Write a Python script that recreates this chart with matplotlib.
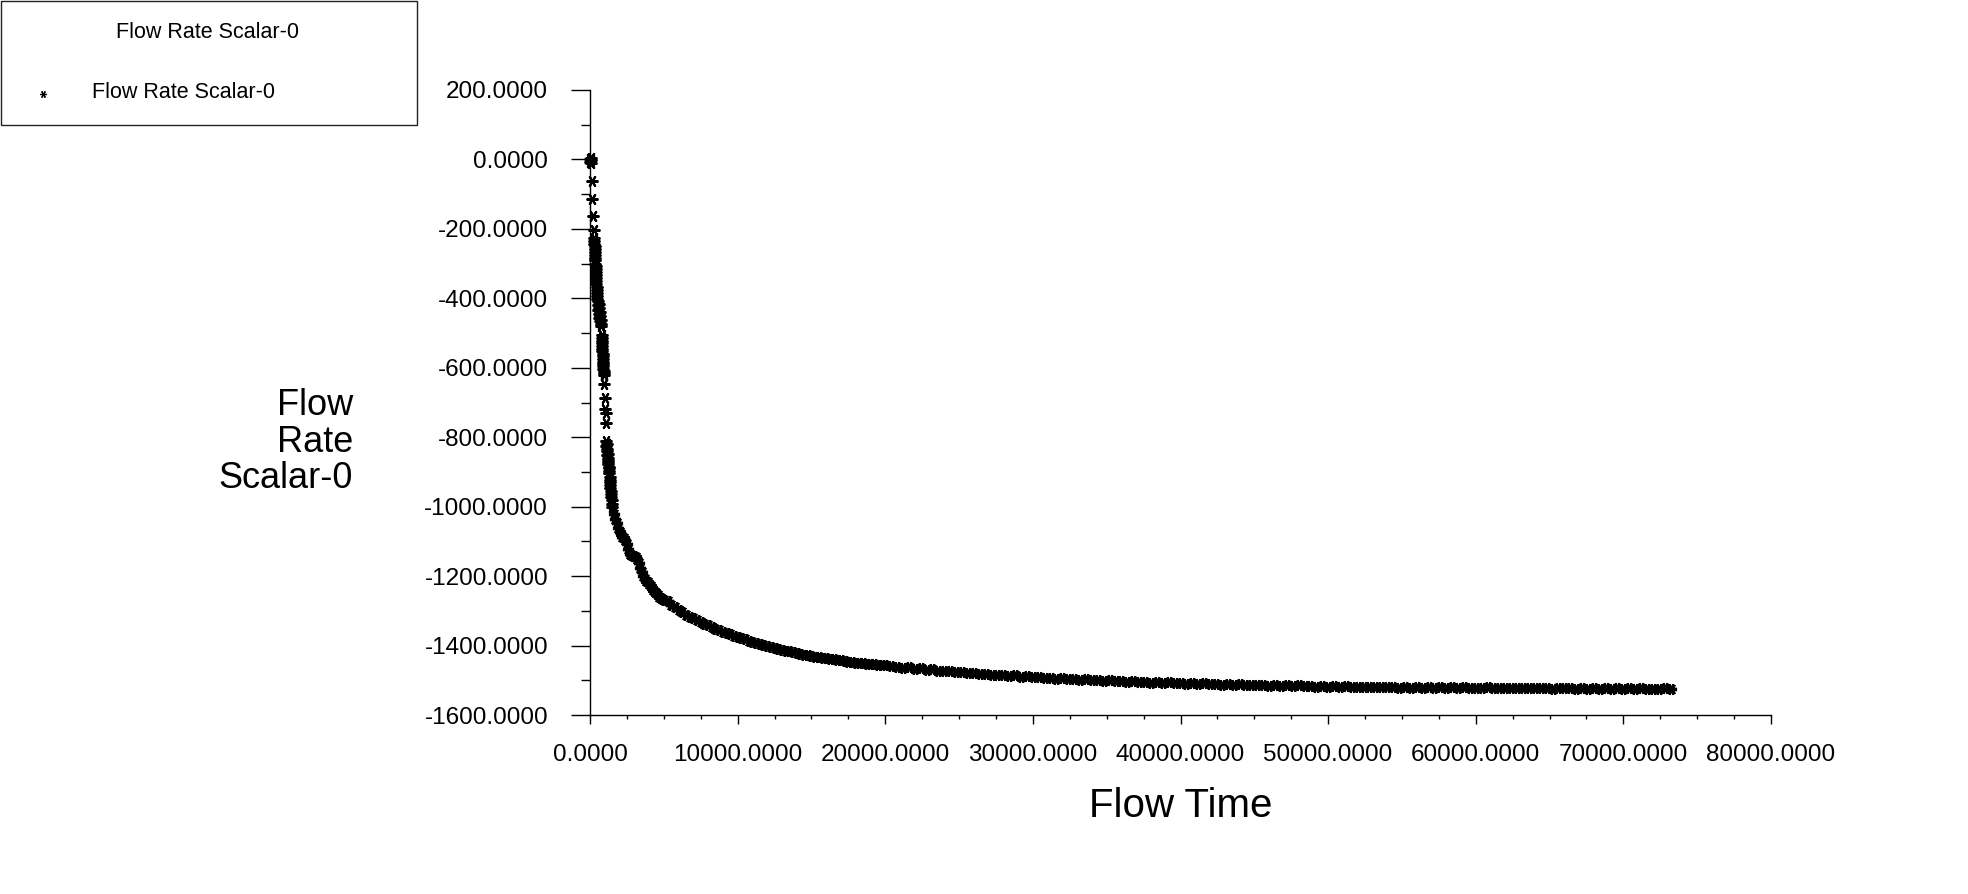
import matplotlib
matplotlib.use("Agg")
import matplotlib.pyplot as plt
from matplotlib.patches import Rectangle
from matplotlib.lines import Line2D
from matplotlib.ticker import MultipleLocator, FormatStrFormatter

plt.rcParams['font.family'] = ['Liberation Sans', 'DejaVu Sans']

series_name = "Flow Rate Scalar-0"
x_label = "Flow Time"
y_label = "Flow\nRate\nScalar-0"

# ---- early transient (sparse / clustered stars) ----
t_early = [0, 20, 40, 60, 80, 120, 160, 220, 260,
           280, 290, 300, 310, 320, 330, 340, 350, 360, 370, 380, 390, 400, 410, 420, 430, 440, 450, 460, 470, 480,
           500, 520, 540, 560, 580, 600, 620, 640, 660, 680, 700, 720, 740, 760,
           780, 790, 800, 810, 820, 830, 840, 850, 860, 870, 880, 890, 900, 910, 920, 930, 940,
           960, 990, 1020, 1050, 1080,
           1100, 1115, 1130, 1145, 1160, 1175, 1190, 1205, 1220, 1235, 1250, 1265, 1280, 1295, 1310,
           1325, 1340, 1355, 1370, 1385, 1400, 1420, 1440, 1460, 1480, 1500]
q_early = [0, -6, 4, -10, -2, -63, -115, -164, -202,
           -226, -234, -243, -250, -259, -266, -275, -283, -291, -300, -308, -316, -325, -333, -341, -350, -358, -366, -375, -384, -393,
           -402, -420, -408, -433, -415, -445, -428, -456, -440, -466, -450, -474, -462, -480,
           -507, -514, -522, -530, -537, -545, -552, -560, -567, -574, -582, -589, -596, -603, -609, -615, -620,
           -646, -686, -718, -729, -758,
           -812, -826, -820, -840, -835, -852, -848, -866, -860, -878, -872, -890, -885, -902, -897,
           -915, -922, -930, -938, -946, -955, -964, -972, -982, -992, -1002]

# ---- decay part 1 ----
t_decay1 = [1600, 1700, 1800, 1900, 2000, 2100, 2200, 2300, 2400, 2500,
            2600, 2700, 2800, 2900, 3000, 3100, 3200, 3300, 3400, 3500,
            3600, 3700, 3800, 3900, 4000, 4100, 4200, 4300, 4400, 4500,
            4600, 4700, 4800, 4900, 5000]
q_decay1 = [-1020, -1035, -1046, -1060, -1074, -1080, -1086, -1090, -1096, -1108,
            -1122, -1135, -1138, -1141, -1143, -1146, -1150, -1163, -1177, -1189,
            -1199, -1207, -1213, -1218, -1224, -1229, -1234, -1240, -1245, -1250,
            -1255, -1260, -1263, -1266, -1268]

# ---- decay part 2 ----
t_decay2 = [5250, 5500, 5750, 6000, 6250, 6500, 6750, 7000, 7250, 7500,
            7750, 8000, 8250, 8500, 8750, 9000, 9250, 9500, 9750, 10000,
            10250, 10500, 10750, 11000, 11250, 11500, 11750, 12000, 12250, 12500,
            12750, 13000, 13250, 13500, 13750, 14000, 14250, 14500, 14750, 15000,
            15250, 15500, 15750, 16000, 16250, 16500, 16750, 17000, 17250, 17500,
            17750, 18000, 18250, 18500, 18750, 19000, 19250, 19500, 19750, 20000]
q_decay2 = [-1273, -1282, -1290, -1297, -1304, -1311, -1317, -1322, -1327, -1332,
            -1337, -1342, -1347, -1351, -1356, -1360, -1364, -1368, -1372, -1375,
            -1379, -1382, -1386, -1389, -1392, -1395, -1398, -1401, -1404, -1407,
            -1410, -1412, -1415, -1417, -1419, -1422, -1424, -1426, -1428, -1430,
            -1432, -1434, -1435, -1437, -1439, -1440, -1442, -1443, -1445, -1446,
            -1447, -1449, -1450, -1451, -1452, -1453, -1454, -1455, -1456, -1457]

# ---- plateau ----
t_plateau = [20400, 20800, 21200, 21600, 22000, 22400, 22800, 23200, 23600, 24000,
             24400, 24800, 25200, 25600, 26000, 26400, 26800, 27200, 27600, 28000,
             28400, 28800, 29200, 29600, 30000, 30400, 30800, 31200, 31600, 32000,
             32400, 32800, 33200, 33600, 34000, 34400, 34800, 35200, 35600, 36000,
             36400, 36800, 37200, 37600, 38000, 38400, 38800, 39200, 39600, 40000,
             40400, 40800, 41200, 41600, 42000, 42400, 42800, 43200, 43600, 44000,
             44400, 44800, 45200, 45600, 46000, 46400, 46800, 47200, 47600, 48000,
             48400, 48800, 49200, 49600, 50000, 50400, 50800, 51200, 51600, 52000,
             52400, 52800, 53200, 53600, 54000, 54400, 54800, 55200, 55600, 56000,
             56400, 56800, 57200, 57600, 58000, 58400, 58800, 59200, 59600, 60000,
             60400, 60800, 61200, 61600, 62000, 62400, 62800, 63200, 63600, 64000,
             64400, 64800, 65200, 65600, 66000, 66400, 66800, 67200, 67600, 68000,
             68400, 68800, 69200, 69600, 70000, 70400, 70800, 71200, 71600, 72000,
             72400, 72800, 73200]
q_plateau = [-1459, -1461, -1464, -1462, -1467, -1466, -1470, -1468, -1472, -1474,
             -1473, -1477, -1476, -1480, -1479, -1482, -1481, -1485, -1484, -1486,
             -1487, -1486, -1490, -1488, -1491, -1490, -1493, -1492, -1495, -1494,
             -1497, -1495, -1498, -1497, -1500, -1498, -1501, -1500, -1503, -1502,
             -1504, -1503, -1505, -1504, -1507, -1505, -1508, -1506, -1509, -1508,
             -1510, -1508, -1511, -1509, -1512, -1511, -1513, -1511, -1514, -1512,
             -1514, -1513, -1515, -1513, -1516, -1514, -1516, -1515, -1517, -1515,
             -1517, -1516, -1518, -1516, -1518, -1517, -1519, -1517, -1519, -1518,
             -1520, -1518, -1520, -1519, -1520, -1518, -1521, -1519, -1521, -1520,
             -1521, -1519, -1522, -1520, -1521, -1520, -1522, -1520, -1522, -1521,
             -1522, -1520, -1523, -1521, -1522, -1521, -1523, -1521, -1523, -1522,
             -1523, -1521, -1524, -1522, -1523, -1522, -1524, -1522, -1524, -1523,
             -1524, -1522, -1525, -1523, -1524, -1523, -1525, -1523, -1525, -1524,
             -1524, -1523, -1525]

x_ticks = [0, 10000, 20000, 30000, 40000, 50000, 60000, 70000, 80000]
y_ticks = [-1600, -1400, -1200, -1000, -800, -600, -400, -200, 0, 200]

W, H = 1968, 894
fig = plt.figure(figsize=(W / 100, H / 100), dpi=100)
ax = fig.add_axes([590 / W, 1 - 715 / H, (1771 - 590) / W, (715 - 90) / H])

star = (6, 2, 90)
# early, sparse stars: thinner, individually visible
ax.plot(t_early, q_early, linestyle='none', marker=star, markersize=8.5,
        markeredgecolor='black', markeredgewidth=1.5, clip_on=False)
# dense decay band: heavy overlapping stars form a solid band
ax.plot(t_decay1 + t_decay2 + t_plateau, q_decay1 + q_decay2 + q_plateau,
        linestyle='none', marker=star, markersize=8,
        markeredgecolor='black', markeredgewidth=2.4, clip_on=False)

ax.set_xlim(x_ticks[0], x_ticks[-1])
ax.set_ylim(y_ticks[0], y_ticks[-1])
ax.set_xticks(x_ticks)
ax.set_yticks(y_ticks)
ax.xaxis.set_major_formatter(FormatStrFormatter('%.4f'))
ax.yaxis.set_major_formatter(FormatStrFormatter('%.4f'))
ax.xaxis.set_minor_locator(MultipleLocator(2500))
ax.yaxis.set_minor_locator(MultipleLocator(100))

for s in ['top', 'right']:
    ax.spines[s].set_visible(False)
for s in ['left', 'bottom']:
    ax.spines[s].set_linewidth(1.0)
    ax.spines[s].set_color('black')

ax.tick_params(axis='y', which='major', direction='out', length=13.7, width=1.0,
               pad=16.5, labelsize=17.5, colors='black')
ax.tick_params(axis='y', which='minor', direction='out', length=6.5, width=1.0, colors='black')
ax.tick_params(axis='x', which='major', direction='out', length=6.5, width=1.0,
               pad=14.5, labelsize=17.5, colors='black')
ax.tick_params(axis='x', which='minor', direction='out', length=3, width=1.0, colors='black')

ax.set_xlabel(x_label, fontsize=29, va='center')
ax.xaxis.set_label_coords(0.5, (715 - 806) / 625)
ax.set_ylabel(y_label, fontsize=26, rotation=0, ha='right', va='center',
              multialignment='right', linespacing=1.06)
ax.yaxis.set_label_coords((353 - 590) / 1181, (715 - 442) / 625)

# legend box
fig.patches.append(Rectangle((1 / W, 1 - 125 / H), 416 / W, 124 / H, transform=fig.transFigure,
                             facecolor='white', edgecolor='#222222', linewidth=1.0, zorder=5))
fig.text(208 / W, 1 - 32 / H, series_name, ha='center', va='center', fontsize=15.5, zorder=6)
fig.text(92 / W, 1 - 93 / H, series_name, ha='left', va='center', fontsize=15.5, zorder=6)
fig.lines.append(Line2D([43 / W], [1 - 94 / H], transform=fig.transFigure, linestyle='none',
                        marker=star, markersize=5, markeredgecolor='black',
                        markeredgewidth=0.9, zorder=6))

fig.savefig('out.png', dpi=100, facecolor='white')
